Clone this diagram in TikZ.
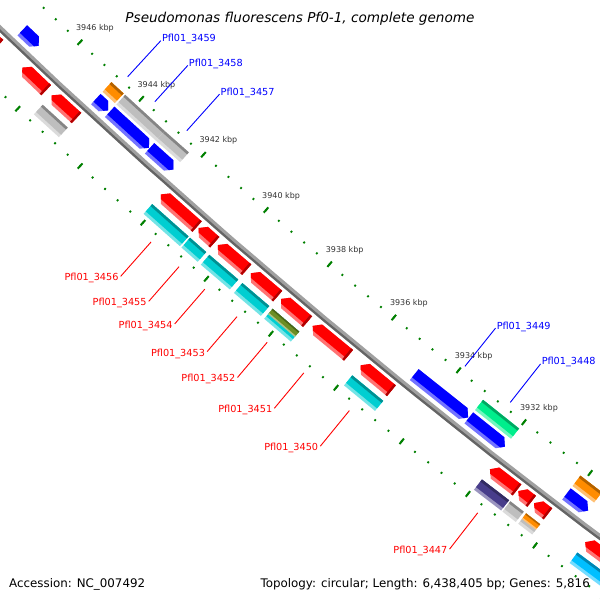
\documentclass[tikz,border=0pt]{standalone}
\usepackage{fontspec}
\setmainfont{DejaVu Sans}

\definecolor{genered}{RGB}{255,0,0}
\definecolor{geneblue}{RGB}{0,0,255}
\definecolor{cogcyan}{RGB}{0,206,209}
\definecolor{coggray}{RGB}{190,190,190}
\definecolor{cogorange}{RGB}{255,140,0}
\definecolor{cogolive}{RGB}{107,142,35}
\definecolor{cogpurple}{RGB}{72,61,139}
\definecolor{coggreen}{RGB}{0,238,140}
\definecolor{cogsky}{RGB}{0,191,255}
\definecolor{tickgreen}{RGB}{0,128,0}
\definecolor{axisgray}{RGB}{160,160,160}
\definecolor{axisdark}{RGB}{100,100,100}

% angle of a genome position (kbp) on the big circle
\newcommand{\kang}[1]{226.9+(3946-(#1))*0.365}

% forward strand gene, points to higher kbp
\newcommand{\fwdgene}[2]{%
  \pgfmathsetmacro\gA{\kang{#1}}%
  \pgfmathsetmacro\gB{\kang{#2}}%
  \pgfmathsetmacro\gH{\gB+0.055}%
  \pgfmathsetmacro\gX{\gB+0.027}%
  \pgfmathsetmacro\gC{\gA-0.02}%
  \fill[genered!55!white] (\gA:6605) -- (\gH:6605) -- (\gB:6612) -- (\gH:6619) -- (\gA:6619) -- cycle;
  \fill[genered] (\gA:6605) -- (\gH:6605) -- (\gB:6612) -- (\gX:6615.5) -- (\gA:6615.5) -- cycle;
  \fill[genered!70!black] (\gA:6605) -- (\gC:6605) -- (\gC:6619) -- (\gA:6619) -- cycle;
}

% reverse strand gene, points to lower kbp
\newcommand{\revgene}[2]{%
  \pgfmathsetmacro\gA{\kang{#2}}%
  \pgfmathsetmacro\gB{\kang{#1}}%
  \pgfmathsetmacro\gH{\gB-0.055}%
  \pgfmathsetmacro\gX{\gB-0.027}%
  \fill[geneblue!55!white] (\gA:6578) -- (\gH:6578) -- (\gB:6585) -- (\gH:6592) -- (\gA:6592) -- cycle;
  \fill[geneblue] (\gA:6578) -- (\gH:6578) -- (\gB:6585) -- (\gX:6588.5) -- (\gA:6588.5) -- cycle;
}

% plain feature box: low kbp, high kbp, inner radius, outer radius, colour
\newcommand{\featbox}[5]{%
  \pgfmathsetmacro\gA{\kang{#2}}%
  \pgfmathsetmacro\gB{\kang{#1}}%
  \pgfmathsetmacro\rL{#4-0.25*(#4-#3)}%
  \pgfmathsetmacro\rD{#3+0.2*(#4-#3)}%
  \fill[#5!55!white] (\gA:#3) -- (\gB:#3) -- (\gB:#4) -- (\gA:#4) -- cycle;
  \fill[#5] (\gA:#3) -- (\gB:#3) -- (\gB:\rL) -- (\gA:\rL) -- cycle;
  \fill[#5!70!black] (\gA:#3) -- (\gB:#3) -- (\gB:\rD) -- (\gA:\rD) -- cycle;
}

\newcommand{\bluelabel}[3]{%
  \coordinate (in#1) at ({\kang{#2}}:6547);
  \coordinate (out#1) at ({\kang{#2}}:6498);
  \draw[blueleader] (in#1) -- (out#1);
  \node[bluetag] (tag#1) at (out#1) {#3};
}
\newcommand{\redlabel}[3]{%
  \coordinate (in#1) at ({\kang{#2}}:6654);
  \coordinate (out#1) at ({\kang{#2}}:6700);
  \draw[redleader] (in#1) -- (out#1);
  \node[redtag] (tag#1) at (out#1) {#3};
}

\begin{document}
\begin{tikzpicture}[x=1pt,y=1pt,
    tickdot/.style={tickgreen, line width=1.8pt},
    tickmark/.style={tickgreen, line width=2pt},
    ticklabel/.style={anchor=west, inner sep=0pt, text=black!80,
      font=\fontsize{8}{9}\selectfont, xshift=-4pt, yshift=14pt},
    blueleader/.style={draw=geneblue, line width=0.9pt},
    redleader/.style={draw=genered, line width=0.9pt},
    bluetag/.style={anchor=base west, inner sep=0pt, text=geneblue,
      font=\fontsize{9.7}{11}\selectfont, xshift=1pt, yshift=-1pt},
    redtag/.style={anchor=base east, inner sep=0pt, text=genered,
      font=\fontsize{9.7}{11}\selectfont, xshift=-2pt, yshift=-4.5pt}]
  \useasboundingbox (0,0) rectangle (600,-600);
  \fill[white] (0,0) rectangle (600,-600);
  \begin{scope}
    \clip (0,0) rectangle (600,-600);
    \begin{scope}[shift={(4558,4743)}]
      % axis
      \draw[axisgray, line width=5.5pt] plot[domain=226:234, samples=40] (\x:6599);
      \draw[axisdark, line width=2.2pt] plot[domain=226:234, samples=40] (\x:6600.6);
      % scale ticks
      \foreach \i in {0,...,60}{
        \pgfmathsetmacro\tA{\kang{3926+0.4*\i}}
        \draw[tickdot] (\tA:6553) -- (\tA:6555);
        \draw[tickdot] (\tA:6644) -- (\tA:6646);
      }
      \foreach \k in {3926,3928,...,3950}{
        \pgfmathsetmacro\tA{\kang{\k}}
        \draw[tickmark] (\tA:6550.5) -- (\tA:6557.5);
        \draw[tickmark] (\tA:6641.5) -- (\tA:6648.5);
      }
      \foreach \k in {3932,3934,...,3946}{
        \pgfmathsetmacro\tA{\kang{\k}}
        \node[ticklabel] (kb\k) at (\tA:6554) {\k\ kbp};
      }
      % forward strand
      \fwdgene{3947.37}{3948.60}
      \fwdgene{3945.81}{3946.59}
      \fwdgene{3944.83}{3945.63}
      \fwdgene{3940.98}{3942.13}
      \fwdgene{3940.42}{3940.93}
      \fwdgene{3939.42}{3940.32}
      \fwdgene{3938.45}{3939.29}
      \fwdgene{3937.52}{3938.35}
      \fwdgene{3936.26}{3937.36}
      \fwdgene{3934.94}{3935.89}
      \fwdgene{3931.14}{3931.95}
      \fwdgene{3930.70}{3931.10}
      \fwdgene{3930.21}{3930.63}
      \fwdgene{3927.50}{3929.10}
      % reverse strand
      \revgene{3946.66}{3947.20}
      \revgene{3944.40}{3944.80}
      \revgene{3943.08}{3944.35}
      \revgene{3942.30}{3943.06}
      \revgene{3933.12}{3934.76}
      \revgene{3932.00}{3933.10}
      \revgene{3929.50}{3930.15}
      % inner feature track
      \featbox{3944.40}{3944.80}{6562}{6575}{cogorange}
      \featbox{3943.07}{3944.35}{6562}{6575}{coggray}
      \featbox{3942.30}{3943.07}{6562}{6575}{coggray}
      \featbox{3932.00}{3933.10}{6562}{6575}{coggreen}
      \featbox{3929.50}{3930.15}{6562}{6575}{cogorange}
      % outer feature track
      \featbox{3944.83}{3945.63}{6625}{6638}{coggray}
      \featbox{3940.98}{3942.13}{6625}{6638}{cogcyan}
      \featbox{3940.42}{3940.93}{6625}{6638}{cogcyan}
      \featbox{3939.42}{3940.32}{6625}{6638}{cogcyan}
      \featbox{3938.45}{3939.29}{6625}{6638}{cogcyan}
      \featbox{3937.52}{3938.35}{6625}{6638}{cogcyan}
      \featbox{3937.52}{3938.35}{6625}{6632}{cogolive}
      \featbox{3934.94}{3935.89}{6625}{6638}{cogcyan}
      \featbox{3931.14}{3931.95}{6625}{6638}{cogpurple}
      \featbox{3930.70}{3931.10}{6625}{6638}{coggray}
      \featbox{3930.21}{3930.63}{6625}{6638}{coggray}
      \featbox{3930.21}{3930.63}{6625}{6632}{cogorange}
      \featbox{3927.50}{3929.10}{6625}{6638}{cogsky}
      % gene labels
      \bluelabel{3459}{3944.60}{Pfl01\_3459}
      \bluelabel{3458}{3943.715}{Pfl01\_3458}
      \bluelabel{3457}{3942.68}{Pfl01\_3457}
      \bluelabel{3449}{3933.94}{Pfl01\_3449}
      \bluelabel{3448}{3932.55}{Pfl01\_3448}
      \redlabel{3456}{3941.555}{Pfl01\_3456}
      \redlabel{3455}{3940.675}{Pfl01\_3455}
      \redlabel{3454}{3939.87}{Pfl01\_3454}
      \redlabel{3453}{3938.87}{Pfl01\_3453}
      \redlabel{3452}{3937.935}{Pfl01\_3452}
      \redlabel{3451}{3936.81}{Pfl01\_3451}
      \redlabel{3450}{3935.415}{Pfl01\_3450}
      \redlabel{3447}{3931.545}{Pfl01\_3447}
    \end{scope}
  \end{scope}
  \node[anchor=base, inner sep=0pt, font=\fontsize{13.6}{15}\selectfont\itshape]
    (title) at (300,-22) {Pseudomonas fluorescens Pf0-1, complete genome};
  \node[anchor=base west, inner sep=0pt, font=\fontsize{11.85}{13}\selectfont]
    (accession) at (9,-587) {Accession: NC\_007492};
  \node[anchor=base east, inner sep=0pt, font=\fontsize{11.85}{13}\selectfont]
    (topology) at (590,-587) {Topology: circular; Length: 6,438,405 bp; Genes: 5,816};
\end{tikzpicture}
\end{document}
